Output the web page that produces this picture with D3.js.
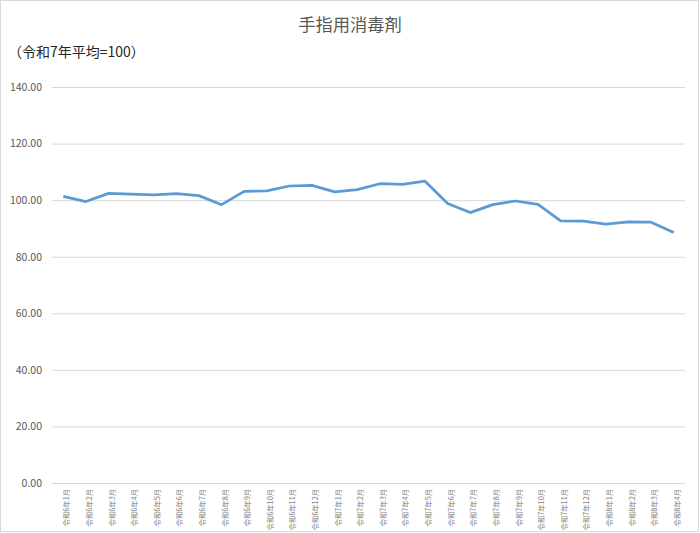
<!DOCTYPE html>
<html>
<head>
<meta charset="utf-8">
<script src="https://cdn.jsdelivr.net/npm/d3@7"></script>
<style>
  body { margin: 0; background: #fff; }
  text { font-family: "Noto Sans CJK JP", "Noto Sans", sans-serif; }
</style>
</head>
<body>
<div id="chart"></div>
<script>
const months = [
  "令和6年1月", "令和6年2月", "令和6年3月", "令和6年4月", "令和6年5月", "令和6年6月",
  "令和6年7月", "令和6年8月", "令和6年9月", "令和6年10月", "令和6年11月", "令和6年12月",
  "令和7年1月", "令和7年2月", "令和7年3月", "令和7年4月", "令和7年5月", "令和7年6月",
  "令和7年7月", "令和7年8月", "令和7年9月", "令和7年10月", "令和7年11月", "令和7年12月",
  "令和8年1月", "令和8年2月", "令和8年3月", "令和8年4月"
];

const values = [
  101.3, 99.5, 102.4, 102.1, 101.9, 102.3, 101.6, 98.4, 103.1, 103.3, 105.0, 105.2,
  102.9, 103.7, 105.8, 105.6, 106.7, 98.8, 95.6, 98.4, 99.7, 98.5, 92.7, 92.6,
  91.5, 92.3, 92.2, 88.6
];

const yTicks = [0, 20, 40, 60, 80, 100, 120, 140];

const width = 700, height = 533;
const margin = { top: 87, right: 15, bottom: 50, left: 52 };

const svg = d3.select("#chart")
  .append("svg")
  .attr("width", width)
  .attr("height", height);

// outer frame
svg.append("rect")
  .attr("x", 0.5).attr("y", 0.5)
  .attr("width", width - 2).attr("height", height - 2)
  .attr("fill", "#fff")
  .attr("stroke", "#d9d9d9");

const x = d3.scalePoint()
  .domain(months)
  .range([margin.left, width - margin.right])
  .padding(0.5);

const y = d3.scaleLinear()
  .domain([0, 140])
  .range([height - margin.bottom, margin.top]);

// gridlines + y labels
const yAxis = svg.append("g")
  .attr("transform", `translate(${margin.left},0)`)
  .call(d3.axisLeft(y)
    .tickValues(yTicks)
    .tickSize(-(width - margin.left - margin.right))
    .tickPadding(10)
    .tickFormat(d3.format(".2f")));
yAxis.select(".domain").remove();
yAxis.selectAll(".tick line").attr("stroke", "#d9d9d9");
yAxis.selectAll(".tick text")
  .attr("fill", "#595959")
  .attr("font-size", 10.5);

// x labels
const xAxis = svg.append("g")
  .attr("transform", `translate(0,${height - margin.bottom})`)
  .call(d3.axisBottom(x).tickSize(0));
xAxis.select(".domain").remove();
xAxis.selectAll(".tick text")
  .attr("fill", "#7f7f7f")
  .attr("font-size", 7.3)
  .attr("text-anchor", "end")
  .attr("dy", "0.35em")
  .attr("transform", "translate(0,6) rotate(-90)");

// line
const line = d3.line()
  .x((d, i) => x(months[i]))
  .y(d => y(d));

svg.append("path")
  .datum(values)
  .attr("fill", "none")
  .attr("stroke", "#5b9bd5")
  .attr("stroke-width", 2.75)
  .attr("stroke-linejoin", "round")
  .attr("d", line);

// titles
svg.append("text")
  .attr("x", 350)
  .attr("y", 31)
  .attr("text-anchor", "middle")
  .attr("font-size", 17.3)
  .attr("fill", "#595959")
  .text("手指用消毒剤");

svg.append("text")
  .attr("x", 8)
  .attr("y", 57)
  .attr("font-size", 14)
  .attr("fill", "#262626")
  .text("（令和7年平均=100）");
</script>
</body>
</html>
